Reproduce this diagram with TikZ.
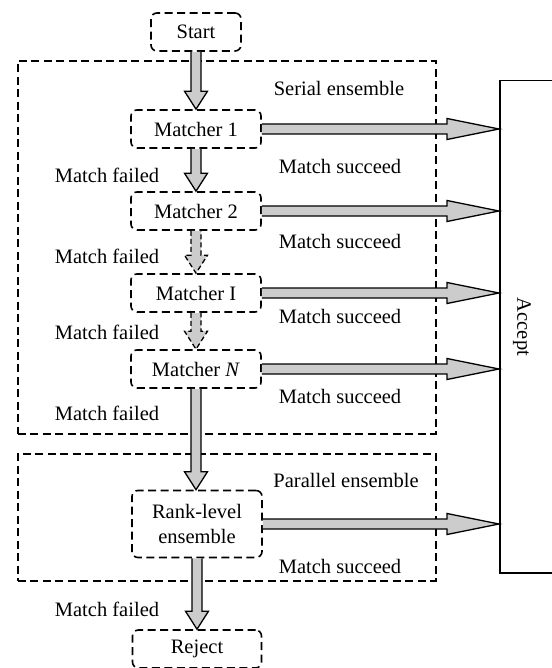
\documentclass[tikz,border=0pt]{standalone}
\usepackage{fontspec}
\setmainfont{Liberation Serif}
\usetikzlibrary{calc}

% vertical block arrow from the bottom of #2 to the top of #3
\newcommand{\blockdown}[3][]{%
  \filldraw[blockarrow,#1] let \p1=(#2.south), \p2=(#3.north) in
    (\x1-5pt,\y1) -- (\x1-5pt,\y2+18pt) -- (\x1-11.5pt,\y2+18pt) -- (\x1,\y2)
    -- (\x1+11.5pt,\y2+18pt) -- (\x1+5pt,\y2+18pt) -- (\x1+5pt,\y1);}

% horizontal block arrow from the right side of #1 to the left side of #2
\newcommand{\blockright}[2]{%
  \filldraw[blockarrow] let \p1=(#1.east), \p2=(#2.west) in
    (\x1,\y1+5pt) -- (\x2-52pt,\y1+5pt) -- (\x2-52pt,\y1+10.5pt) -- (\x2,\y1)
    -- (\x2-52pt,\y1-10.5pt) -- (\x2-52pt,\y1-5pt) -- (\x1,\y1-5pt);}

\begin{document}
\begin{tikzpicture}[x=1pt,y=-1pt,
  every node/.style={font=\fontsize{20.5}{25}\selectfont, inner sep=0pt},
  stage/.style={draw, line width=1.6pt, dash pattern=on 8pt off 4.5pt,
    rounded corners=6pt, minimum width=130pt, minimum height=38pt, align=center},
  ensemble/.style={draw, line width=1.6pt, dash pattern=on 8pt off 4.5pt, anchor=north west},
  blockarrow/.style={fill=black!20, draw=black, line width=1.3pt, line join=miter},
  dashedarrow/.style={dash pattern=on 5pt off 3pt},
  label/.style={anchor=center}]
\useasboundingbox (0,0) rectangle (551,668);

% ensemble frames
\node[ensemble, minimum width=418pt, minimum height=373pt] (serial) at (17,60) {};
\node[ensemble, minimum width=418pt, minimum height=127pt] (parallel) at (17,453) {};

% stages
\node[stage, minimum width=90pt] (start) at (196,32) {Start};
\node[stage] (m1) at (196,129) {Matcher 1};
\node[stage] (m2) at (196,211) {Matcher 2};
\node[stage] (mi) at (196,293) {Matcher I};
\node[stage] (mn) at (196,369) {Matcher \textit{N}};
\node[stage, minimum height=67pt] (rank) at (197,524) {Rank-level\\ensemble};
\node[stage, minimum width=129pt] (reject) at (197,649) {Reject};

% accept bar
\node[draw, line width=1.5pt, anchor=north west, minimum width=70pt, minimum height=492pt] (accept) at (499,80) {};
\node[rotate=-90] (acceptlabel) at (522,327) {Accept};

% frame titles
\node[label] (sertitle) at (339,88) {Serial ensemble};
\node[label] (partitle) at (346,480) {Parallel ensemble};

% outcome labels
\node[label] (f1) at (107,175) {Match failed};
\node[label] (f2) at (107,256) {Match failed};
\node[label] (f3) at (107,332) {Match failed};
\node[label] (f4) at (107,413) {Match failed};
\node[label] (f5) at (107,609) {Match failed};
\node[label] (s1) at (340,166) {Match succeed};
\node[label] (s2) at (340,241) {Match succeed};
\node[label] (s3) at (340,316) {Match succeed};
\node[label] (s4) at (340,396) {Match succeed};
\node[label] (s5) at (340,566) {Match succeed};

% arrows towards accept
\blockright{m1}{accept}
\blockright{m2}{accept}
\blockright{mi}{accept}
\blockright{mn}{accept}
\blockright{rank}{accept}

% downward flow
\blockdown{start}{m1}
\blockdown{m1}{m2}
\blockdown[dashedarrow]{m2}{mi}
\blockdown[dashedarrow]{mi}{mn}
\blockdown{mn}{rank}
\blockdown{rank}{reject}
\end{tikzpicture}
\end{document}
